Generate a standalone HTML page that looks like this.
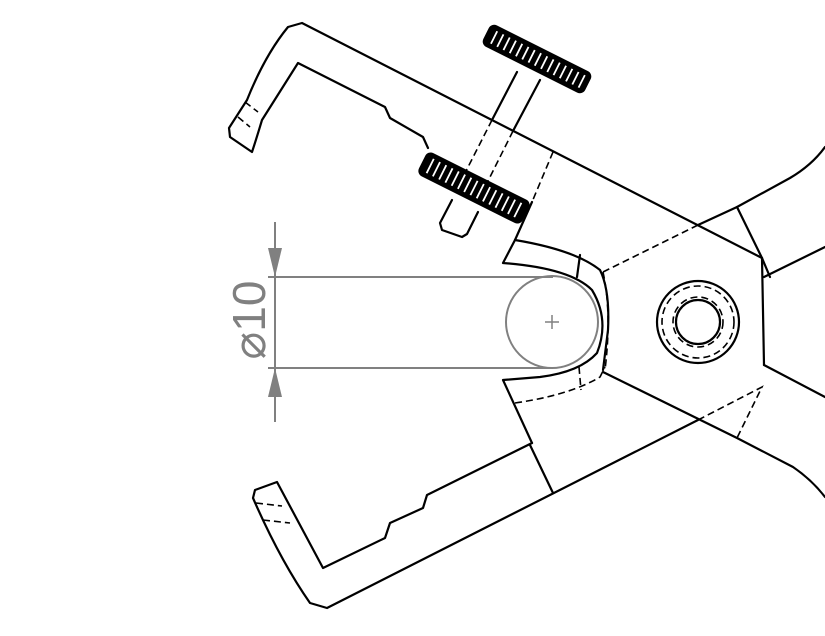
<!DOCTYPE html>
<html><head><meta charset="utf-8"><style>
html,body{margin:0;padding:0;background:#fff;}
svg{display:block;}
</style></head><body>
<svg width="825" height="636" viewBox="0 0 825 636" xmlns="http://www.w3.org/2000/svg">
<g fill="none" stroke="#000" stroke-width="2.2" stroke-linejoin="round" stroke-linecap="round">
<path d="M762,258 L302,23 L288,27 Q265,55 247,100 L229,128 L230,137 L252,152 Q256,140 262,120 L298,63 L385,107 L390,118 L423,137 L428,148"/>
<path d="M532,202 L515,240 Q575,250 600,270 Q610,290 608,330 L603,370"/>
<path d="M515,240 L503,263 Q570,268 592,290 Q610,320 597,353 Q580,372 540,377 L503,380 L532,443"/>
<path d="M532,443 L427,495 L423,508 L390,523 L385,538 L323,568 L277,482 L255,490 L253,498 Q280,560 310,603 L327,608 L698,420"/>
<path d="M530,445 L553,493"/>
<path d="M762,258 L764,365"/>
<path d="M698,225 L737,207 L790,178 Q812,165 825,147"/>
<path d="M737,207 L762,258 L770,277"/>
<path d="M764,277 L825,247"/>
<path d="M603,372 L737,438 L793,467 Q812,480 825,497"/>
<path d="M764,365 L825,397"/>
<path d="M580,255 L577,277"/>
<circle cx="698" cy="322" r="41"/>
<circle cx="698" cy="322" r="22"/>
</g>
<g fill="none" stroke="#000" stroke-width="1.6" stroke-dasharray="7,4">
<path d="M698,225 L603,272"/>
<path d="M698,420 L762,387 L737,438"/>
<path d="M603,272 Q612,313 605,370"/>
<path d="M515,403 Q570,395 600,377 L605,367"/>
<path d="M579,367 L581,390"/>
<path d="M553,152 L532,202"/>
<circle cx="698" cy="322" r="36"/>
<circle cx="698" cy="322" r="25"/>
<path d="M245,102 L258,112 M238,117 L250,127"/>
<path d="M256,503 L282,506 M263,520 L290,523"/>
<path d="M492,120 L465,173 M513,131 L487,183"/>
</g>
<g fill="none" stroke="#000" stroke-width="2.2" stroke-linejoin="round" stroke-linecap="round">
<path d="M517,72 L492,120 M540,80 L513,131"/>
<path d="M452,200 L440,223 L442,230 L462,237 L467,234 L478,212" fill="#fff"/>
</g>
<g transform="translate(537,59) rotate(26.6)">
<rect x="-57" y="-12" width="114" height="24" rx="6" fill="#000"/>
<g stroke="#fff" stroke-width="1.8">
<path d="M-48,-7 v14 M-41,-7 v14 M-34,-7 v14 M-27,-7 v14 M-20,-7 v14 M-13,-7 v14 M-6,-7 v14 M1,-7 v14 M8,-7 v14 M15,-7 v14 M22,-7 v14 M29,-7 v14 M36,-7 v14 M43,-7 v14 M50,-7 v14"/>
</g>
</g>
<g transform="translate(474,188) rotate(26.6)">
<rect x="-58" y="-13" width="116" height="26" rx="6" fill="#000"/>
<g stroke="#fff" stroke-width="1.8">
<path d="M-49,-8 v16 M-42,-8 v16 M-35,-8 v16 M-28,-8 v16 M-21,-8 v16 M-14,-8 v16 M-7,-8 v16 M0,-8 v16 M7,-8 v16 M14,-8 v16 M21,-8 v16 M28,-8 v16 M35,-8 v16 M42,-8 v16 M49,-8 v16"/>
</g>
</g>
<g stroke="#808080" stroke-width="2" fill="none">
<path d="M275,222 L275,422"/>
<path d="M268,277 L553,277 M268,368 L553,368"/>
<circle cx="552" cy="322" r="46"/>
<path d="M545,322 h14 M552,315 v14" stroke-width="1.5"/>
</g>
<g fill="#808080">
<path d="M268,248 L282,248 L275,277 Z"/>
<path d="M268,397 L282,397 L275,368 Z"/>
</g>
<text x="0" y="0" transform="translate(265,320) rotate(-90)" text-anchor="middle" font-family="Liberation Sans, DejaVu Sans, sans-serif" font-size="46" fill="#808080">⌀10</text>
</svg>
</body></html>
